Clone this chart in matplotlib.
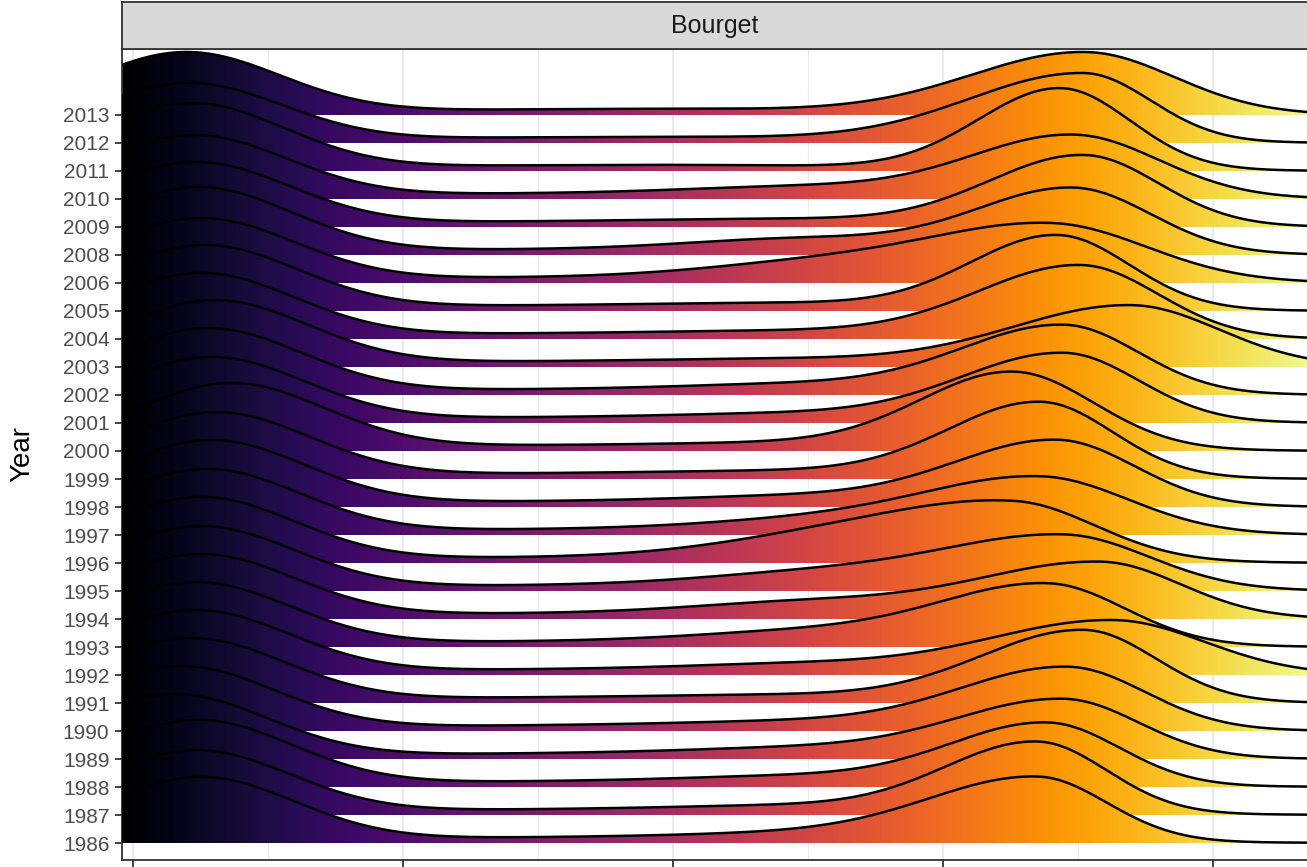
import numpy as np
import matplotlib.pyplot as plt
from matplotlib.patches import Polygon

plt.rcParams['font.family'] = ['Liberation Sans', 'DejaVu Sans']

# one ridge per year, top row first
years = [2013, 2012, 2011, 2010, 2009, 2008, 2006, 2005, 2004, 2003, 2002, 2001, 2000,
         1999, 1998, 1997, 1996, 1995, 1994, 1993, 1992, 1991, 1990, 1989, 1988, 1987, 1986]

# cold (winter) mode: position and height (in rows)
cold_peak = [5.97, 6.02, 6.06, 6.10, 6.15, 6.19, 6.24, 6.30, 6.24, 6.49, 6.37, 6.43, 6.80,
             6.52, 6.43, 6.34, 6.24, 6.24, 6.24, 6.15, 6.15, 6.06, 5.87, 5.74, 6.19, 6.15, 6.24]
cold_height = [2.25, 2.14, 2.43, 2.29, 2.32, 2.43, 2.32, 2.36, 2.36, 2.39, 2.39, 2.36, 2.43,
               2.39, 2.39, 2.36, 2.36, 2.32, 2.32, 2.32, 2.32, 2.32, 2.32, 2.32, 2.40, 2.32, 2.36]

# warm (summer) mode: position, height, spread below / above the peak
warm_peak = [22.63, 22.60, 22.17, 22.41, 22.60, 22.41, 21.99, 22.11, 22.54, 23.47, 22.23, 22.23, 21.30,
             21.80, 22.11, 21.80, 21.30, 22.23, 22.91, 21.93, 23.15, 22.60, 22.30, 22.23, 21.93, 21.74, 21.74]
warm_height = [2.25, 2.50, 2.96, 2.29, 2.57, 2.39, 2.11, 2.71, 2.64, 2.21, 2.50, 2.50, 2.82,
               2.75, 2.39, 2.07, 2.14, 2.00, 2.04, 2.25, 1.96, 2.61, 2.29, 2.14, 2.29, 2.61, 2.36]
warm_sd_lo = [2.1, 2.1, 1.5, 1.9, 1.75, 1.8, 2.3, 1.6, 1.9, 2.2, 1.9, 1.9, 1.7,
              1.7, 1.9, 2.2, 2.4, 2.3, 2.3, 2.0, 2.3, 1.9, 2.0, 2.0, 1.8, 1.7, 2.0]
warm_sd_hi = [1.65, 1.25, 1.3, 1.6, 1.4, 1.45, 1.8, 1.35, 1.45, 1.65, 1.4, 1.4, 1.5,
              1.35, 1.45, 1.65, 1.55, 1.6, 1.5, 1.45, 1.7, 1.35, 1.45, 1.4, 1.35, 1.3, 1.3]

# spring/autumn shoulder height
shoulder = [0.0, 0.0, 0.0, 0.25, 0.1, 0.4, 0.45, 0.1, 0.1, 0.1, 0.2, 0.15, 0.1,
            0.1, 0.2, 0.3, 0.5, 0.4, 0.4, 0.35, 0.2, 0.1, 0.15, 0.2, 0.2, 0.15, 0.15]

X_MIN, X_MAX = 4.8, 27.4
BG_HEIGHT, BG_AT, BG_SD = 0.22, 14.5, 5.0
COLD_SD = 1.75
SHOULDER_AT, SHOULDER_SD = 17.5, 2.0


def bump(x, at, sd):
    return np.exp(-0.5 * ((x - at) / sd) ** 2)


def ridge_height(i, x):
    bg = BG_HEIGHT * bump(x, BG_AT, BG_SD)
    cold_amp = cold_height[i] - BG_HEIGHT * bump(cold_peak[i], BG_AT, BG_SD)
    warm_amp = warm_height[i] - BG_HEIGHT * bump(warm_peak[i], BG_AT, BG_SD)
    cold = cold_amp * bump(x, cold_peak[i], COLD_SD)
    sd = np.where(x < warm_peak[i], warm_sd_lo[i], warm_sd_hi[i])
    warm = warm_amp * bump(x, warm_peak[i], sd)
    mid = shoulder[i] * bump(x, SHOULDER_AT, SHOULDER_SD)
    return bg + cold + warm + mid


W, H = 1307, 867
fig = plt.figure(figsize=(W / 100, H / 100), dpi=100)
ax = fig.add_axes([122 / W, 7 / H, (1308 - 122) / W, (860 - 49) / H])

x = np.linspace(X_MIN, X_MAX, 900)
grad = x.reshape(1, -1)
n = len(years)
for i in range(n):
    base = n - 1 - i
    top = base + ridge_height(i, x)
    verts = np.vstack([np.column_stack([x, top]), [[x[-1], base], [x[0], base]]])
    poly = Polygon(verts, closed=True, facecolor='none', edgecolor='none')
    ax.add_patch(poly)
    im = ax.imshow(grad, cmap='inferno', aspect='auto', interpolation='bilinear',
                   extent=[X_MIN, X_MAX, base, top.max()], vmin=4.8, vmax=27.3,
                   zorder=2 + 2 * i)
    im.set_clip_path(poly)
    ax.plot(x, top, color='black', lw=1.8, zorder=3 + 2 * i)

ax.set_xlim(4.8, 4.8 + (1308 - 122) / 54)
ax.set_ylim(-0.607, n - 1 + 2.357)

ax.set_xticks([5, 10, 15, 20, 25])
ax.set_xticks([7.5, 12.5, 17.5, 22.5], minor=True)
ax.set_yticks(range(n))
ax.set_yticklabels([str(y) for y in years[::-1]])
ax.set_axisbelow(True)
ax.grid(axis='x', which='major', color='#EBEBEB', lw=1.4)
ax.grid(axis='x', which='minor', color='#EBEBEB', lw=0.8)
ax.tick_params(axis='both', which='major', length=5, width=1.3, color='#333333',
               labelsize=15, labelcolor='#4D4D4D', pad=4)
ax.tick_params(axis='x', which='minor', length=0)
ax.tick_params(axis='x', labelbottom=False)
for s in ax.spines.values():
    s.set_color('#333333')
    s.set_linewidth(1.3)

fig.text(22 / W, 1 - 454 / H, 'Year', rotation=90, ha='center', va='center',
         fontsize=20, color='black')

strip = fig.add_axes([122 / W, 1 - 49 / H, (1308 - 122) / W, 47 / H])
strip.set_facecolor('#D9D9D9')
strip.set_xticks([])
strip.set_yticks([])
for s in strip.spines.values():
    s.set_color('#333333')
    s.set_linewidth(1.3)
strip.text(0.5, 0.5, 'Bourget', ha='center', va='center', fontsize=18, color='#1A1A1A',
           transform=strip.transAxes)

fig.savefig('out.png', dpi=100)
